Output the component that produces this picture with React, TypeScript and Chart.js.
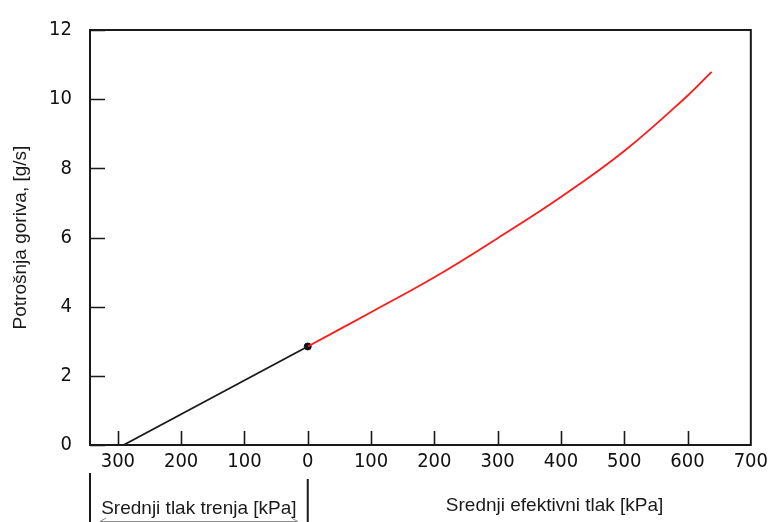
import React, { useEffect, useRef } from "react";
import { Chart, registerables } from "chart.js";

Chart.register(...registerables);

// Friction segment (negative x = mean friction pressure, kPa)
const frictionX = [-291, 0];
const frictionY = [0, 2.85];

// Effective segment (mean effective pressure, kPa)
const effectiveX = [0, 100, 200, 300, 400, 500, 600, 638];
const effectiveY = [2.85, 3.84, 4.85, 5.98, 7.17, 8.5, 10.1, 10.79];

// Marker at the junction
const markerX = [0];
const markerY = [2.85];

const xTickValues = [-300, -200, -100, 0, 100, 200, 300, 400, 500, 600, 700];
const yTickValues = [0, 2, 4, 6, 8, 10, 12];

const yTitle = "Potrošnja goriva, [g/s]";
const xTitleRight = "Srednji efektivni tlak [kPa]";
const xTitleLeft = "Srednji tlak trenja [kPa]";

const tickFont = "'DejaVu Sans Condensed', 'DejaVu Sans', sans-serif";
const textFont = "'Liberation Sans', Arial, sans-serif";

const framePlugin = {
  id: "framePlugin",
  afterDatasetsDraw(chart: any) {
    const { ctx, chartArea } = chart;
    const xs = chart.scales.x;
    const ys = chart.scales.y;
    const { left, right, top, bottom } = chartArea;
    ctx.save();
    ctx.strokeStyle = "#1a1a1a";
    ctx.lineWidth = 2;
    ctx.strokeRect(left, top, right - left, bottom - top);
    ctx.lineWidth = 1.6;
    ctx.beginPath();
    xs.ticks.forEach((t: any) => {
      const px = Math.round(xs.getPixelForValue(t.value)) + 0.5;
      if (px > right - 2) return;
      ctx.moveTo(px, bottom);
      ctx.lineTo(px, bottom - 14);
    });
    ys.ticks.forEach((t: any) => {
      const py = Math.round(ys.getPixelForValue(t.value)) + 0.5;
      ctx.moveTo(left, py);
      ctx.lineTo(left + 15, py);
    });
    ctx.stroke();

    // bottom annotation: bracket lines
    const zeroPx = xs.getPixelForValue(0);
    ctx.lineWidth = 2;
    ctx.beginPath();
    ctx.moveTo(left, 473);
    ctx.lineTo(left, 522);
    ctx.moveTo(zeroPx, 479);
    ctx.lineTo(zeroPx, 522);
    ctx.stroke();

    // arrow line (mostly clipped at the bottom edge)
    ctx.strokeStyle = "#8a8a8a";
    ctx.lineWidth = 1;
    ctx.beginPath();
    ctx.moveTo(left + 10, 521.5);
    ctx.lineTo(zeroPx - 10, 521.5);
    ctx.moveTo(left + 16, 518);
    ctx.lineTo(left + 10, 521.5);
    ctx.moveTo(zeroPx - 16, 518);
    ctx.lineTo(zeroPx - 10, 521.5);
    ctx.stroke();

    ctx.fillStyle = "#1a1a1a";
    ctx.font = `19px ${textFont}`;
    ctx.textAlign = "center";
    ctx.textBaseline = "middle";
    ctx.fillText(xTitleLeft, (left + zeroPx) / 2, 509);
    ctx.fillText(xTitleRight, xs.getPixelForValue(390), 506);
    ctx.restore();
  },
};

export default function App() {
  const ref = useRef<HTMLCanvasElement | null>(null);

  useEffect(() => {
    if (!ref.current) return;
    const chart = new Chart(ref.current, {
      type: "line",
      data: {
        datasets: [
          {
            data: frictionX.map((x, i) => ({ x, y: frictionY[i] })),
            borderColor: "#1a1a1a",
            borderWidth: 1.8,
            pointRadius: 0,
            tension: 0,
          },
          {
            data: effectiveX.map((x, i) => ({ x, y: effectiveY[i] })),
            borderColor: "#ff1a1a",
            borderWidth: 1.8,
            pointRadius: 0,
            tension: 0.4,
          },
          {
            data: markerX.map((x, i) => ({ x, y: markerY[i] })),
            borderColor: "#111",
            backgroundColor: "#111",
            showLine: false,
            pointRadius: 3.5,
          },
        ],
      },
      options: {
        animation: false,
        responsive: false,
        layout: { padding: { top: 28, right: 22, left: 0, bottom: 0 } },
        plugins: {
          legend: { display: false },
          tooltip: { enabled: false },
        },
        scales: {
          x: {
            type: "linear",
            min: -344,
            max: 700,
            afterBuildTicks: (scale: any) => {
              scale.ticks = xTickValues.map((v) => ({ value: v }));
            },
            afterFit: (scale: any) => {
              scale.height = 77;
            },
            grid: { display: false, drawTicks: false },
            border: { display: false },
            ticks: {
              padding: 5,
              color: "#111",
              font: { family: tickFont, size: 20 },
              callback: (v: any) => String(Math.abs(Number(v))),
              maxRotation: 0,
              autoSkip: false,
            },
          },
          y: {
            type: "linear",
            min: 0,
            max: 12,
            afterBuildTicks: (scale: any) => {
              scale.ticks = yTickValues.map((v) => ({ value: v }));
            },
            afterFit: (scale: any) => {
              scale.width = 90;
            },
            grid: { display: false, drawTicks: false },
            border: { display: false },
            ticks: {
              padding: 18,
              color: "#111",
              font: { family: tickFont, size: 20 },
              autoSkip: false,
            },
            title: {
              display: true,
              text: yTitle,
              color: "#1a1a1a",
              font: { family: textFont, size: 19 },
              padding: { top: 9, bottom: 0 },
            },
          },
        },
      },
      plugins: [framePlugin],
    } as any);
    return () => chart.destroy();
  }, []);

  return (
    <div style={{ position: "fixed", left: 0, top: 0, width: 773, height: 522, background: "#fff" }}>
      <canvas ref={ref} width={773} height={522} style={{ display: "block", width: 773, height: 522 }} />
    </div>
  );
}
